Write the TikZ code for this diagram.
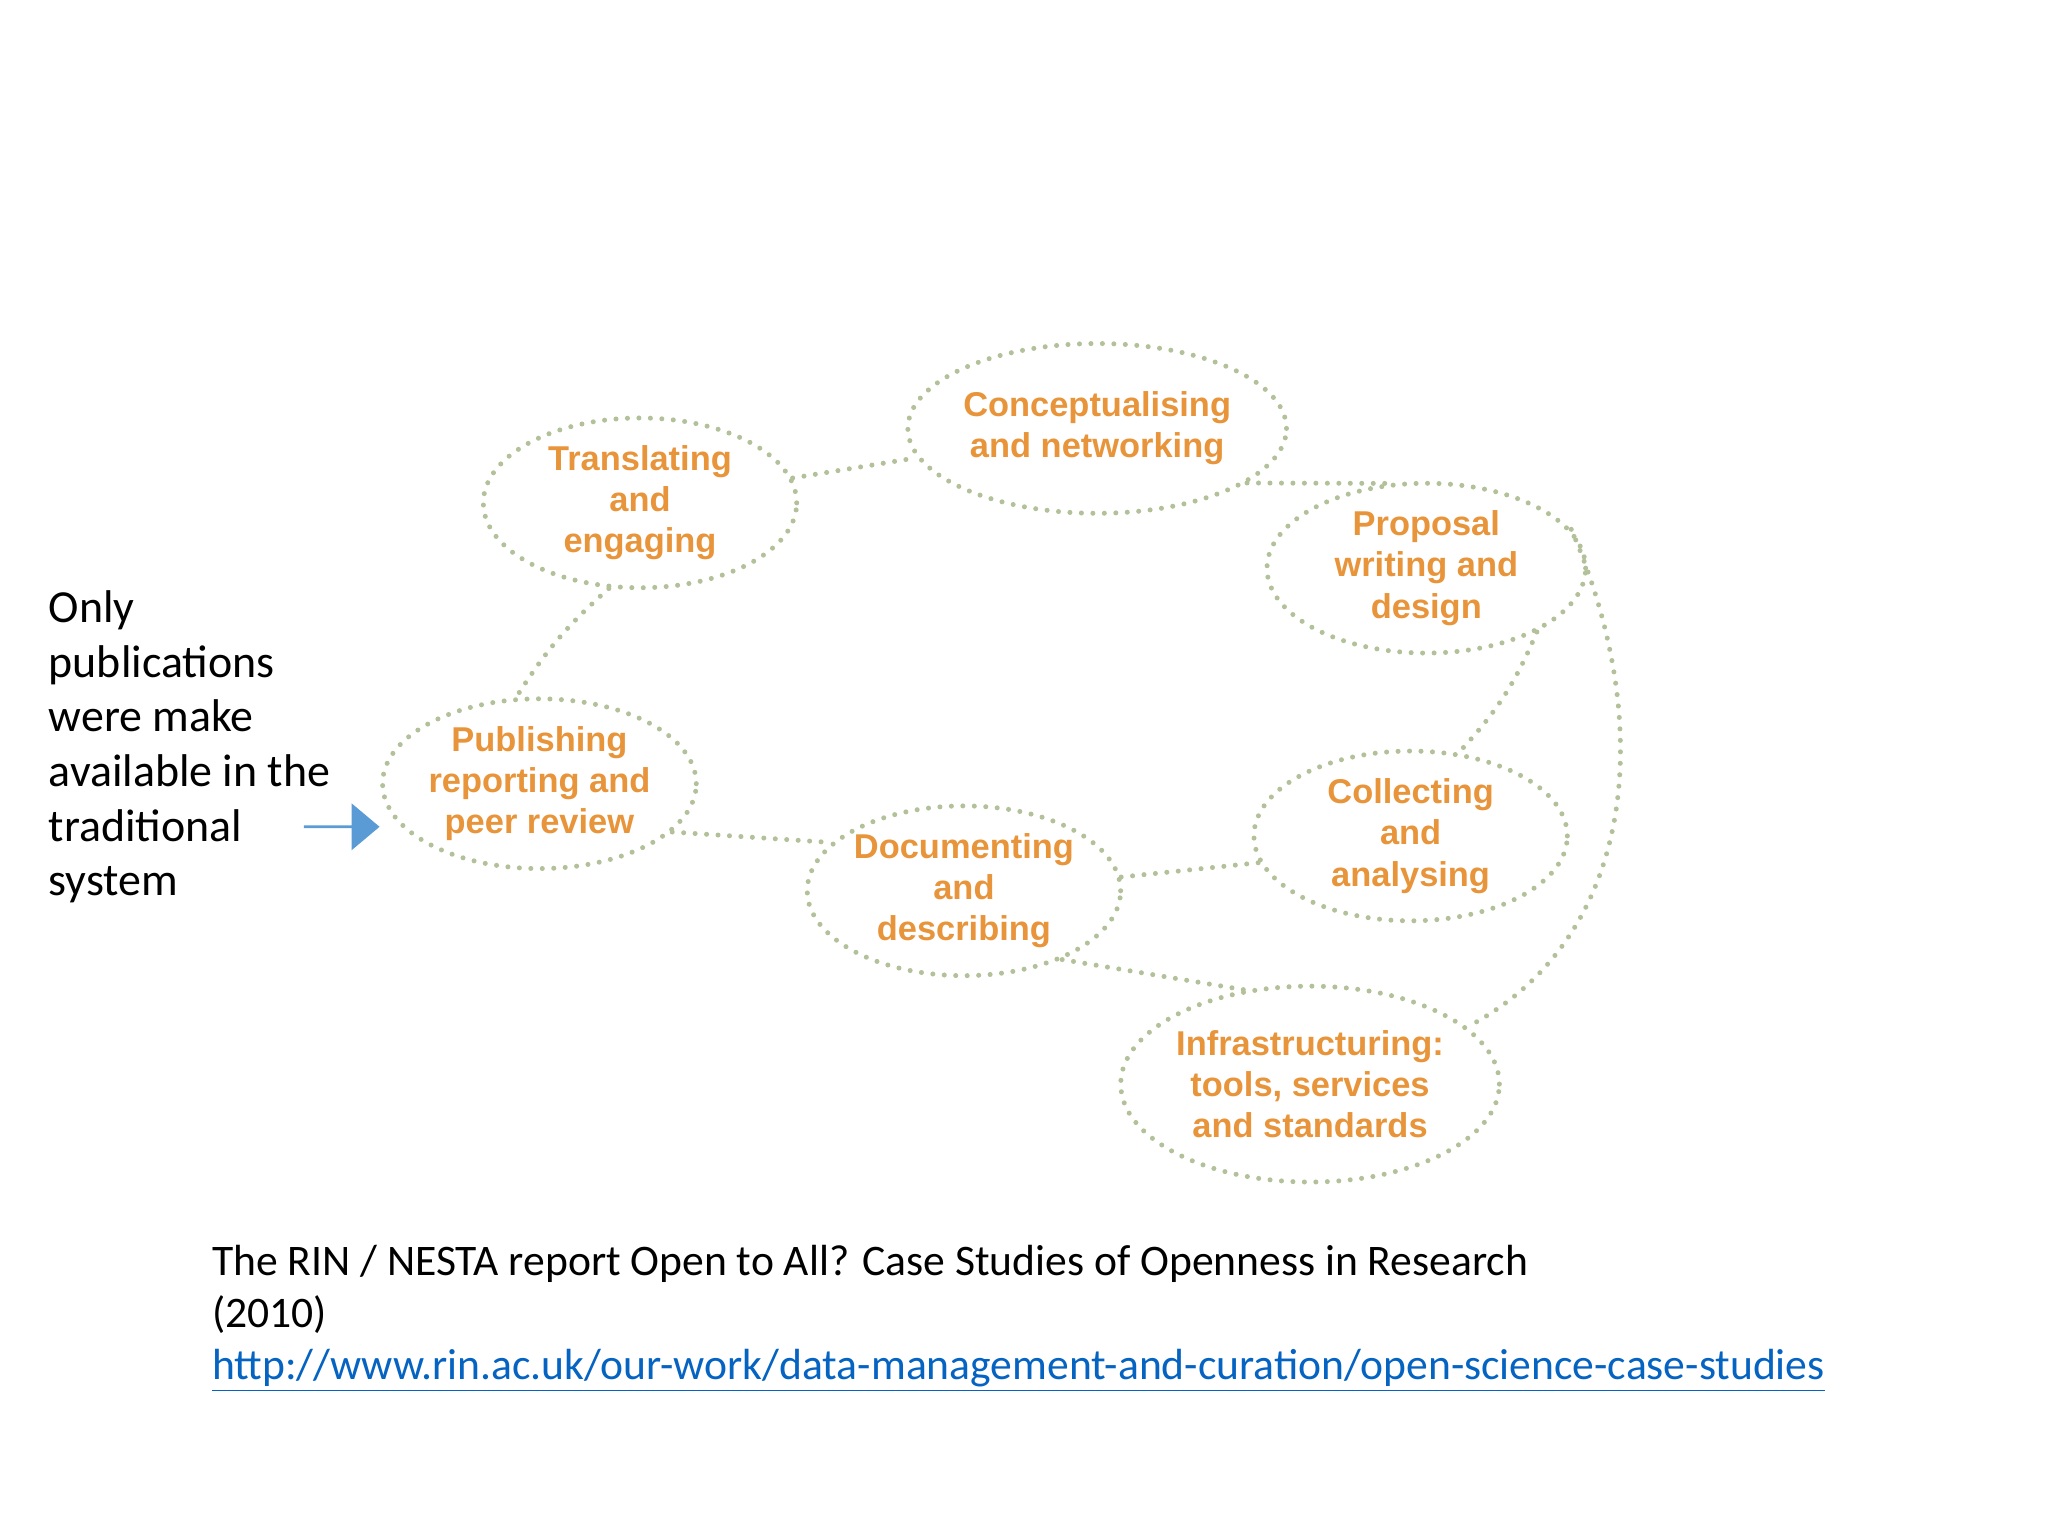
\documentclass[tikz,border=0pt]{standalone}
\usepackage{fontspec}
\setmainfont{Carlito}
\newfontfamily\dfont{Liberation Sans}
\usetikzlibrary{shapes.geometric,shapes.arrows,arrows.meta}
\definecolor{org}{HTML}{E8943A}
\definecolor{dotc}{HTML}{B3C19A}
\definecolor{arr}{HTML}{5B9BD5}
\definecolor{lnk}{HTML}{0563C1}
\begin{document}
\begin{tikzpicture}[x=0.02cm,y=-0.02cm,
  ell/.style={ellipse,draw=dotc,line width=2.2pt,dash pattern=on 0pt off 5pt,line cap=round,
    text=org,font=\dfont\bfseries\fontsize{15}{18}\selectfont,align=center,inner sep=0pt},
  lnkd/.style={draw=dotc,line width=2.2pt,dash pattern=on 0pt off 5pt,line cap=round}]
\useasboundingbox (0,0) rectangle (1568,1176);
\node[ell,minimum width=4.8cm,minimum height=2.6cm] (con) at (840,328) {Conceptualising\\and networking};
\node[ell,minimum width=4.8cm,minimum height=2.6cm] (tra) at (490,385) {Translating\\and\\engaging};
\node[ell,minimum width=4.88cm,minimum height=2.6cm] (pro) at (1092,435) {Proposal\\writing and\\design};
\node[ell,minimum width=4.8cm,minimum height=2.6cm] (pub) at (413,600) {Publishing\\reporting and\\peer review};
\node[ell,minimum width=4.8cm,minimum height=2.6cm] (col) at (1080,640) {Collecting\\and\\analysing};
\node[ell,minimum width=4.8cm,minimum height=2.6cm] (doc) at (738,682) {Documenting\\and\\describing};
\node[ell,minimum width=5.08cm,minimum height=3cm] (inf) at (1003,830) {Infrastructuring:\\tools, services\\and standards};
\draw[lnkd] (tra) -- (con);
\draw[lnkd] (con.-20) -- (pro.115);
\draw[lnkd] (tra.-110) to[bend right=8] (pub.105);
\draw[lnkd] (pub.-20) -- (doc.160);
\draw[lnkd] (doc.5) -- (col.190);
\draw[lnkd] (doc.-35) -- (inf.125);
\draw[lnkd] (pro.-30) to[bend left=10] (col.60);
\draw[lnkd] (pro.15) .. controls (1270,560) and (1250,720) .. (inf.20);
\node[draw=none,fill=arr,single arrow,single arrow head extend=0.12cm,minimum height=1.16cm,minimum width=0.72cm,inner sep=0pt,
  single arrow tip angle=80] (ar) at (261,633) {};
\node[anchor=north west,align=left,font=\fontsize{20}{23.8}\selectfont,inner sep=0pt] (side) at (37,452)
 {Only\\publications\\were make\\available in the\\traditional\\system};
\node[anchor=north west,align=left,font=\fontsize{19}{22.7}\selectfont,inner sep=0pt] (cap) at (162,953)
 {The RIN / NESTA report Open to All? Case Studies of Openness in Research\\(2010)\\
 \textcolor{lnk}{\underline{http://www.rin.ac.uk/our-work/data-management-and-curation/open-science-case-studies}}};
\end{tikzpicture}
\end{document}
